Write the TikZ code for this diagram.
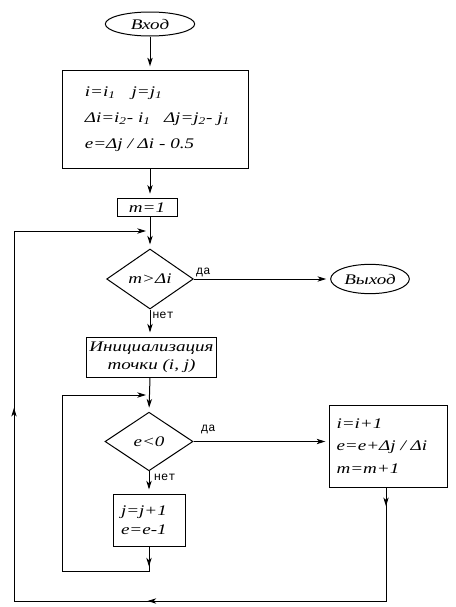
\documentclass[tikz,border=0pt]{standalone}
\usepackage{fontspec}
\setmainfont[FakeStretch=1.3]{Liberation Serif}
\newfontfamily\answerFont{Liberation Mono}
\usetikzlibrary{shapes.geometric,arrows.meta,decorations.markings}
\newcommand{\idx}[1]{\textsubscript{#1}}
\newcommand{\flowText}[1]{\itshape\fontsize{11}{#1}\selectfont}

\begin{document}
\begin{tikzpicture}[x=0.75pt,y=-0.75pt,%%
  >={Stealth[length=6.5pt,width=4pt,inset=1.8pt]},%%
  lineStyle/.style={line width=0.75pt},%%
  arrowStyle/.style={lineStyle,->,shorten >=3pt},%%
  boxStyle/.style={draw,lineStyle,rectangle,inner sep=0pt,font=\flowText{13.5pt}},%%
  termStyle/.style={draw,lineStyle,ellipse,inner sep=0pt,font=\flowText{13.5pt}},%%
  decisionStyle/.style={draw,lineStyle,diamond,inner sep=0pt,font=\flowText{13.5pt}},%%
  answerStyle/.style={inner sep=1.5pt,font=\answerFont\fontsize{9}{10}\selectfont}
]
\useasboundingbox (0,0) rectangle (455,607);
%%
%% Terminal and process blocks.
\node[termStyle,minimum width=67pt,minimum height=18pt] (entry) at (150,24) {Вход};
\node[boxStyle,minimum width=139pt,minimum height=73pt,text width=134pt,
  align=left,font=\flowText{19.5pt}] (initBox) at (155.5,119.5)
  {\hspace*{14pt}i=i\idx{1}\hspace{12pt}j=j\idx{1}\\
   \hspace*{14pt}Δi=i\idx{2}- i\idx{1}\hspace{10pt}Δj=j\idx{2}- j\idx{1}\\
   \hspace*{14pt}e=Δj / Δi - 0.5};
\node[boxStyle,minimum width=45pt,minimum height=14pt] (mStart) at (147,207.5) {m=1};
\node[decisionStyle,minimum width=65pt,minimum height=45pt] (condM) at (150,279) {m>Δi};
\node[termStyle,minimum width=59pt,minimum height=22pt] (exitNode) at (370,279) {Выход};
\node[boxStyle,minimum width=98pt,minimum height=30pt,align=center] (pointInit) at (151.5,357)
  {Инициализация\\точки (i, j)};
\node[decisionStyle,minimum width=66pt,minimum height=44pt] (condE) at (149,441.5) {e<0};
\node[boxStyle,minimum width=88pt,minimum height=61.5pt,text width=78pt,
  align=left,font=\flowText{17pt}] (stepBox) at (388.5,446)
  {i=i+1\\e=e+Δj / Δi\\m=m+1};
\node[boxStyle,minimum width=54pt,minimum height=39pt,text width=46pt,
  align=left,font=\flowText{14.25pt}] (errBox) at (149,520)
  {\hspace*{2pt}j=j+1\\\hspace*{2pt}e=e-1};
%%
%% Answer labels.
\node[answerStyle,above right] (yesM) at (condM.east) {да};
\node[answerStyle,below right] (noM) at (condM.south) {нет};
\node[answerStyle,above right,xshift=4pt,yshift=4pt] (yesE) at (condE.east) {да};
\node[answerStyle,below right,xshift=2pt] (noE) at (condE.south) {нет};
%%
%% Corners of the two loops.
\coordinate (outerA) at (386,601);
\coordinate (outerB) at (14,601);
\coordinate (outerC) at (14,231);
\coordinate (outerD) at (150,231);
\coordinate (innerA) at (149,571);
\coordinate (innerB) at (62,571);
\coordinate (innerC) at (62,395);
\coordinate (innerD) at (150,395);
%%
%% Main line.
\draw[arrowStyle] (entry.south) -- (entry.south |- initBox.north);
\draw[arrowStyle] (initBox.south -| entry) -- (mStart.north -| entry);
\draw[arrowStyle] (mStart.south -| entry) -- (condM.north);
\draw[arrowStyle] (condM.east) -- (condM.east -| exitNode.west);
\draw[arrowStyle] (condM.south) -- (condM.south |- pointInit.north);
\draw[arrowStyle] (pointInit.south -| condM) -- (condE.north);
\draw[arrowStyle] (condE.east) -- (condE.east -| stepBox.west);
\draw[arrowStyle] (condE.south) -- (condE.south |- errBox.north);
%%
%% Inner loop back to e<0.
\draw[arrowStyle,postaction={decorate},
  decoration={markings,mark=at position 15pt with {\arrow{>}}}]
  (errBox.south) -- (innerA) -- (innerB) -- (innerC) -- (innerD);
%%
%% Outer loop back to m>Δi.
\draw[arrowStyle,postaction={decorate},
  decoration={markings,mark=at position 14pt with {\arrow{>}},
    mark=at position 264pt with {\arrow{>}},
    mark=at position 509pt with {\arrow{>}}}]
  (stepBox.south -| outerA) -- (outerA) -- (outerB) -- (outerC) -- (outerD);
\end{tikzpicture}
\end{document}
